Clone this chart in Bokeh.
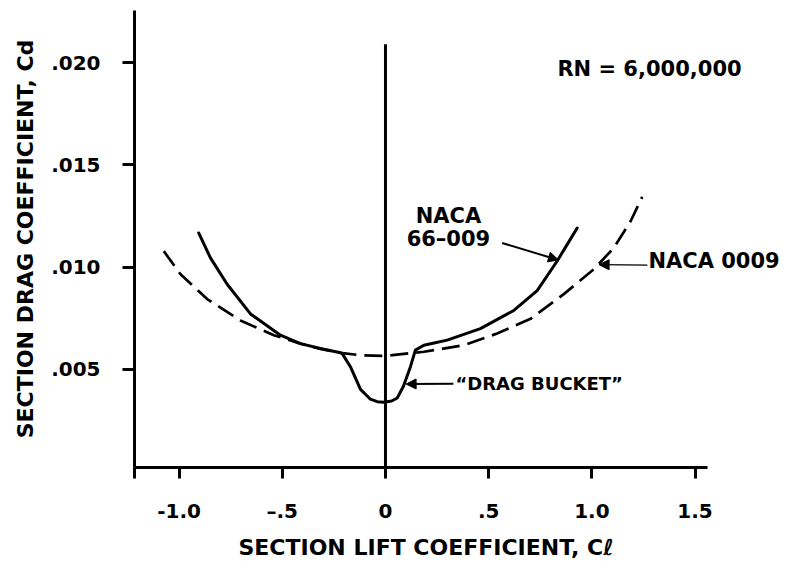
from bokeh.plotting import figure
from bokeh.models import Range1d, FixedTicker, CustomJSTickFormatter, Label, Arrow, NormalHead
from bokeh.embed import file_html
from bokeh.resources import INLINE

# ---- data ----
cl_66009 = [-0.905, -0.848, -0.767, -0.654, -0.509, -0.412, -0.315, -0.218, -0.210,
            -0.170, -0.121, -0.073, -0.040, -0.008, 0.030, 0.057, 0.087, 0.121,
            0.145, 0.186, 0.230, 0.299, 0.460, 0.622, 0.735, 0.832, 0.880, 0.929]
cd_66009 = [0.01167, 0.01045, 0.00916, 0.00771, 0.00667, 0.00626, 0.00602, 0.00581, 0.00578,
            0.00513, 0.00402, 0.00354, 0.00342, 0.00339, 0.00345, 0.00360, 0.00417, 0.00513,
            0.00594, 0.00618, 0.00628, 0.00643, 0.00699, 0.00788, 0.00885, 0.01030, 0.01110, 0.01191]

cl_0009 = [-1.074, -0.993, -0.864, -0.703, -0.541, -0.412, -0.315, -0.218, -0.121, 0.000,
           0.186, 0.379, 0.541, 0.703, 0.864, 1.009, 1.106, 1.187, 1.244]
cd_0009 = [0.01078, 0.00965, 0.00844, 0.00739, 0.00667, 0.00626, 0.00600, 0.00581, 0.00569, 0.00566,
           0.00586, 0.00618, 0.00675, 0.00747, 0.00868, 0.00989, 0.01094, 0.01223, 0.01344]

zero_line_cl = [0.0, 0.0]
zero_line_cd = [0.0002, 0.0209]

x_axis_start, x_axis_end = -1.216, 1.560
x_ticks = [x_axis_start, -1.0, -0.5, 0.0, 0.5, 1.0, 1.5]
x_tick_labels = ["", "-1.0", "\u2013.5", "0", ".5", "1.0", "1.5"]
y_ticks = [0.005, 0.010, 0.015, 0.020]
y_tick_labels = [".005", ".010", ".015", ".020"]

FONT = "DejaVu Sans"

p = figure(width=788, height=562, output_backend="svg", toolbar_location=None,
           x_range=Range1d(x_axis_start, 1.943), y_range=Range1d(0.0002, 0.02255),
           min_border_left=134, min_border_right=2, min_border_top=10, min_border_bottom=90)
p.outline_line_color = None
p.xgrid.visible = False
p.ygrid.visible = False
p.background_fill_color = "white"
p.border_fill_color = "white"

code = """
let best = 0; let d = Infinity;
for (let i = 0; i < tvals.length; i++) {
  const e = Math.abs(tvals[i] - tick);
  if (e < d) { d = e; best = i; }
}
return tlabels[best];
"""

for ax, tv, tl in ((p.xaxis[0], x_ticks, x_tick_labels), (p.yaxis[0], y_ticks, y_tick_labels)):
    ax.ticker = FixedTicker(ticks=tv)
    ax.formatter = CustomJSTickFormatter(args=dict(tvals=tv, tlabels=tl), code=code)
    ax.minor_tick_line_color = None
    ax.major_tick_in = 0
    ax.axis_line_width = 3
    ax.major_tick_line_width = 3
    ax.axis_line_color = "black"
    ax.major_tick_line_color = "black"
    ax.major_label_text_font = FONT
    ax.major_label_text_font_style = "bold"
    ax.major_label_text_font_size = "20px"
    ax.major_label_text_color = "black"
    ax.axis_label_text_font = FONT
    ax.axis_label_text_font_style = "bold"
    ax.axis_label_text_font_size = "22px"
    ax.axis_label_text_color = "black"

p.xaxis.bounds = (x_axis_start, x_axis_end)
# trailing no-break spaces shift the centred title left, under the drawn axis
p.xaxis.axis_label = "SECTION LIFT COEFFICIENT, C\u2113" + "\u00a0" * 9
p.yaxis.axis_label = "SECTION DRAG COEFFICIENT, Cd"
p.xaxis.major_tick_out = 11
p.xaxis.major_label_standoff = 20
p.xaxis.axis_label_standoff = 9
p.yaxis.major_tick_out = 12
p.yaxis.major_label_standoff = 22
p.yaxis.axis_label_standoff = 10

# zero line
p.line(zero_line_cl, zero_line_cd, line_color="black", line_width=3)

# curves
p.line(cl_0009, cd_0009, line_color="black", line_width=2.7, line_dash="18 8")
p.line(cl_66009, cd_66009, line_color="black", line_width=3, line_join="round", line_cap="round")

def lbl(x, y, t, size="21px", align="left"):
    p.add_layout(Label(x=x, y=y, text=t, text_font=FONT, text_font_style="bold",
                       text_font_size=size, text_color="black",
                       text_align=align, text_baseline="middle"))

lbl(0.833, 0.0197, "RN = 6,000,000")
lbl(0.305, 0.01249, "NACA", align="center")
lbl(0.305, 0.01138, "66\u2013009", align="center")
lbl(1.274, 0.0103, "NACA 0009")
lbl(0.339, 0.00433, "\u201cDRAG BUCKET\u201d", size="18px")

def arrow(x0, y0, x1, y1, w=2):
    p.add_layout(Arrow(end=NormalHead(size=10, fill_color="black", line_color="black"),
                       x_start=x0, y_start=y0, x_end=x1, y_end=y1,
                       line_color="black", line_width=w))

arrow(0.565, 0.01118, 0.838, 0.01035)
arrow(1.269, 0.01010, 1.035, 0.01012, w=1.3)
arrow(0.329, 0.00430, 0.100, 0.00428)

open("out.html", "w").write(file_html(p, INLINE))
